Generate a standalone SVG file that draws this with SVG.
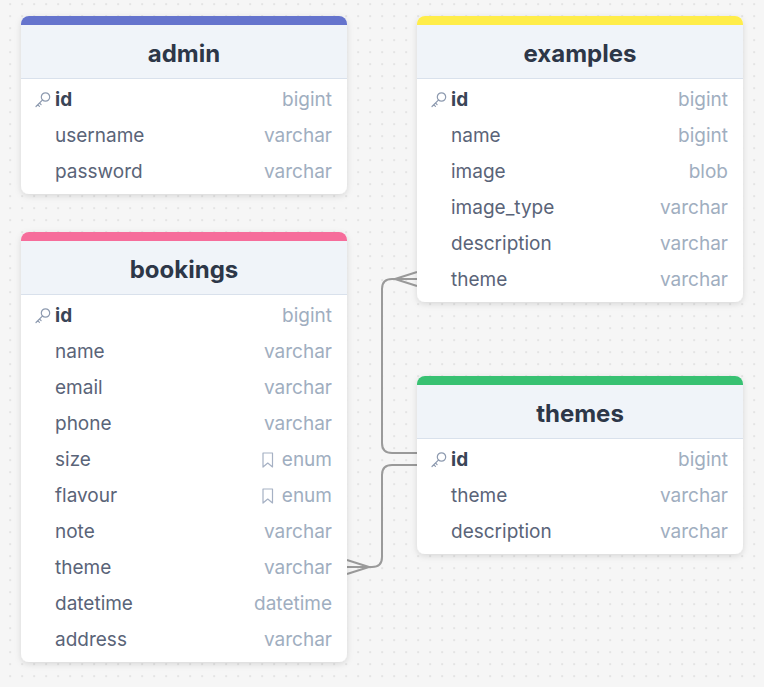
<svg xmlns="http://www.w3.org/2000/svg" width="764" height="687" viewBox="0 0 764 687">
<defs>
<pattern id="dots" x="9.5" y="3.5" width="12" height="12" patternUnits="userSpaceOnUse">
<rect x="0" y="0" width="1.2" height="1.2" fill="#c4c4c4"/>
</pattern>
<filter id="sh" x="-10%" y="-10%" width="120%" height="130%">
<feDropShadow dx="0" dy="2" stdDeviation="3" flood-color="#000" flood-opacity="0.13"/>
</filter>
<g id="key">
<circle cx="3.5" cy="-2.5" r="4.2" fill="none" stroke="#8e9bb0" stroke-width="1.2"/>
<path d="M0.6,0.4 L-6,7 M-4.2,5.2 L-2.6,6.8 M-2.5,3.5 L-0.9,5.1" fill="none" stroke="#8e9bb0" stroke-width="1.2" stroke-linecap="round"/>
</g>
<path id="bm" d="M0,-7 H9.5 V7 L4.75,3 L0,7 Z" fill="none" stroke="#a6b1c4" stroke-width="1.2" stroke-linejoin="round"/>
</defs>
<style>
.card{fill:#ffffff;}
.hdr{fill:#f0f4f9;}
.sep{stroke:#d9e1ec;stroke-width:1;}
.title{font-family:Inter,"Liberation Sans",sans-serif;font-size:24px;font-weight:700;fill:#2d3748;text-anchor:middle;}
.fname{font-family:Inter,"Liberation Sans",sans-serif;font-size:19px;fill:#5a6478;}
.pk{font-weight:700;fill:#3a4557;}
.ftype{font-family:Inter,"Liberation Sans",sans-serif;font-size:19px;fill:#a0aec0;text-anchor:end;}
.conn{fill:none;stroke:#9a9a9a;stroke-width:2;}
</style>
<rect width="764" height="687" fill="#f6f6f6"/>
<rect width="764" height="687" fill="url(#dots)"/>

<g id="connectors">
<path class="conn" d="M417,279 H392 Q382,279 382,289 V443 Q382,453 392,453 H417"/>
<path class="conn" d="M395,279 L417,272 M395,279 L417,286"/>
<path class="conn" d="M417,465 H392 Q382,465 382,475 V557 Q382,567 372,567 H347"/>
<path class="conn" d="M369,567 L347,560 M369,567 L347,574"/>
</g>

<g id="admin">
<g filter="url(#sh)"><rect class="card" x="21" y="16" width="326" height="178" rx="8"/></g>
<path d="M21,24 A8,8 0 0 1 29,16 H339 A8,8 0 0 1 347,24 V78 H21 Z" class="hdr"/>
<path d="M21,25 V24 A8,8 0 0 1 29,16 H339 A8,8 0 0 1 347,24 V25 Z" fill="#6574cd"/>
<line class="sep" x1="21" y1="78.5" x2="347" y2="78.5"/>
<text class="title" x="184" y="62">admin</text>
<use href="#key" x="42" y="99.5"/>
<text class="fname pk" x="55" y="106">id</text><text class="ftype" x="332" y="106">bigint</text>
<text class="fname" x="55" y="142">username</text><text class="ftype" x="332" y="142">varchar</text>
<text class="fname" x="55" y="178">password</text><text class="ftype" x="332" y="178">varchar</text>
</g>

<g id="bookings">
<g filter="url(#sh)"><rect class="card" x="21" y="232" width="326" height="430" rx="8"/></g>
<path d="M21,240 A8,8 0 0 1 29,232 H339 A8,8 0 0 1 347,240 V294 H21 Z" class="hdr"/>
<path d="M21,241 V240 A8,8 0 0 1 29,232 H339 A8,8 0 0 1 347,240 V241 Z" fill="#f66d9b"/>
<line class="sep" x1="21" y1="294.5" x2="347" y2="294.5"/>
<text class="title" x="184" y="278">bookings</text>
<use href="#key" x="42" y="315.5"/>
<text class="fname pk" x="55" y="322">id</text><text class="ftype" x="332" y="322">bigint</text>
<text class="fname" x="55" y="358">name</text><text class="ftype" x="332" y="358">varchar</text>
<text class="fname" x="55" y="394">email</text><text class="ftype" x="332" y="394">varchar</text>
<text class="fname" x="55" y="430">phone</text><text class="ftype" x="332" y="430">varchar</text>
<text class="fname" x="55" y="466">size</text><use href="#bm" x="263" y="460"/><text class="ftype" x="332" y="466">enum</text>
<text class="fname" x="55" y="502">flavour</text><use href="#bm" x="263" y="496"/><text class="ftype" x="332" y="502">enum</text>
<text class="fname" x="55" y="538">note</text><text class="ftype" x="332" y="538">varchar</text>
<text class="fname" x="55" y="574">theme</text><text class="ftype" x="332" y="574">varchar</text>
<text class="fname" x="55" y="610">datetime</text><text class="ftype" x="332" y="610">datetime</text>
<text class="fname" x="55" y="646">address</text><text class="ftype" x="332" y="646">varchar</text>
</g>

<g id="examples">
<g filter="url(#sh)"><rect class="card" x="417" y="16" width="326" height="286" rx="8"/></g>
<path d="M417,24 A8,8 0 0 1 425,16 H735 A8,8 0 0 1 743,24 V78 H417 Z" class="hdr"/>
<path d="M417,25 V24 A8,8 0 0 1 425,16 H735 A8,8 0 0 1 743,24 V25 Z" fill="#ffed4a"/>
<line class="sep" x1="417" y1="78.5" x2="743" y2="78.5"/>
<text class="title" x="580" y="62">examples</text>
<use href="#key" x="438" y="99.5"/>
<text class="fname pk" x="451" y="106">id</text><text class="ftype" x="728" y="106">bigint</text>
<text class="fname" x="451" y="142">name</text><text class="ftype" x="728" y="142">bigint</text>
<text class="fname" x="451" y="178">image</text><text class="ftype" x="728" y="178">blob</text>
<text class="fname" x="451" y="214">image_type</text><text class="ftype" x="728" y="214">varchar</text>
<text class="fname" x="451" y="250">description</text><text class="ftype" x="728" y="250">varchar</text>
<text class="fname" x="451" y="286">theme</text><text class="ftype" x="728" y="286">varchar</text>
</g>

<g id="themes">
<g filter="url(#sh)"><rect class="card" x="417" y="376" width="326" height="178" rx="8"/></g>
<path d="M417,384 A8,8 0 0 1 425,376 H735 A8,8 0 0 1 743,384 V438 H417 Z" class="hdr"/>
<path d="M417,385 V384 A8,8 0 0 1 425,376 H735 A8,8 0 0 1 743,384 V385 Z" fill="#38c172"/>
<line class="sep" x1="417" y1="438.5" x2="743" y2="438.5"/>
<text class="title" x="580" y="422">themes</text>
<use href="#key" x="438" y="459.5"/>
<text class="fname pk" x="451" y="466">id</text><text class="ftype" x="728" y="466">bigint</text>
<text class="fname" x="451" y="502">theme</text><text class="ftype" x="728" y="502">varchar</text>
<text class="fname" x="451" y="538">description</text><text class="ftype" x="728" y="538">varchar</text>
</g>
</svg>
